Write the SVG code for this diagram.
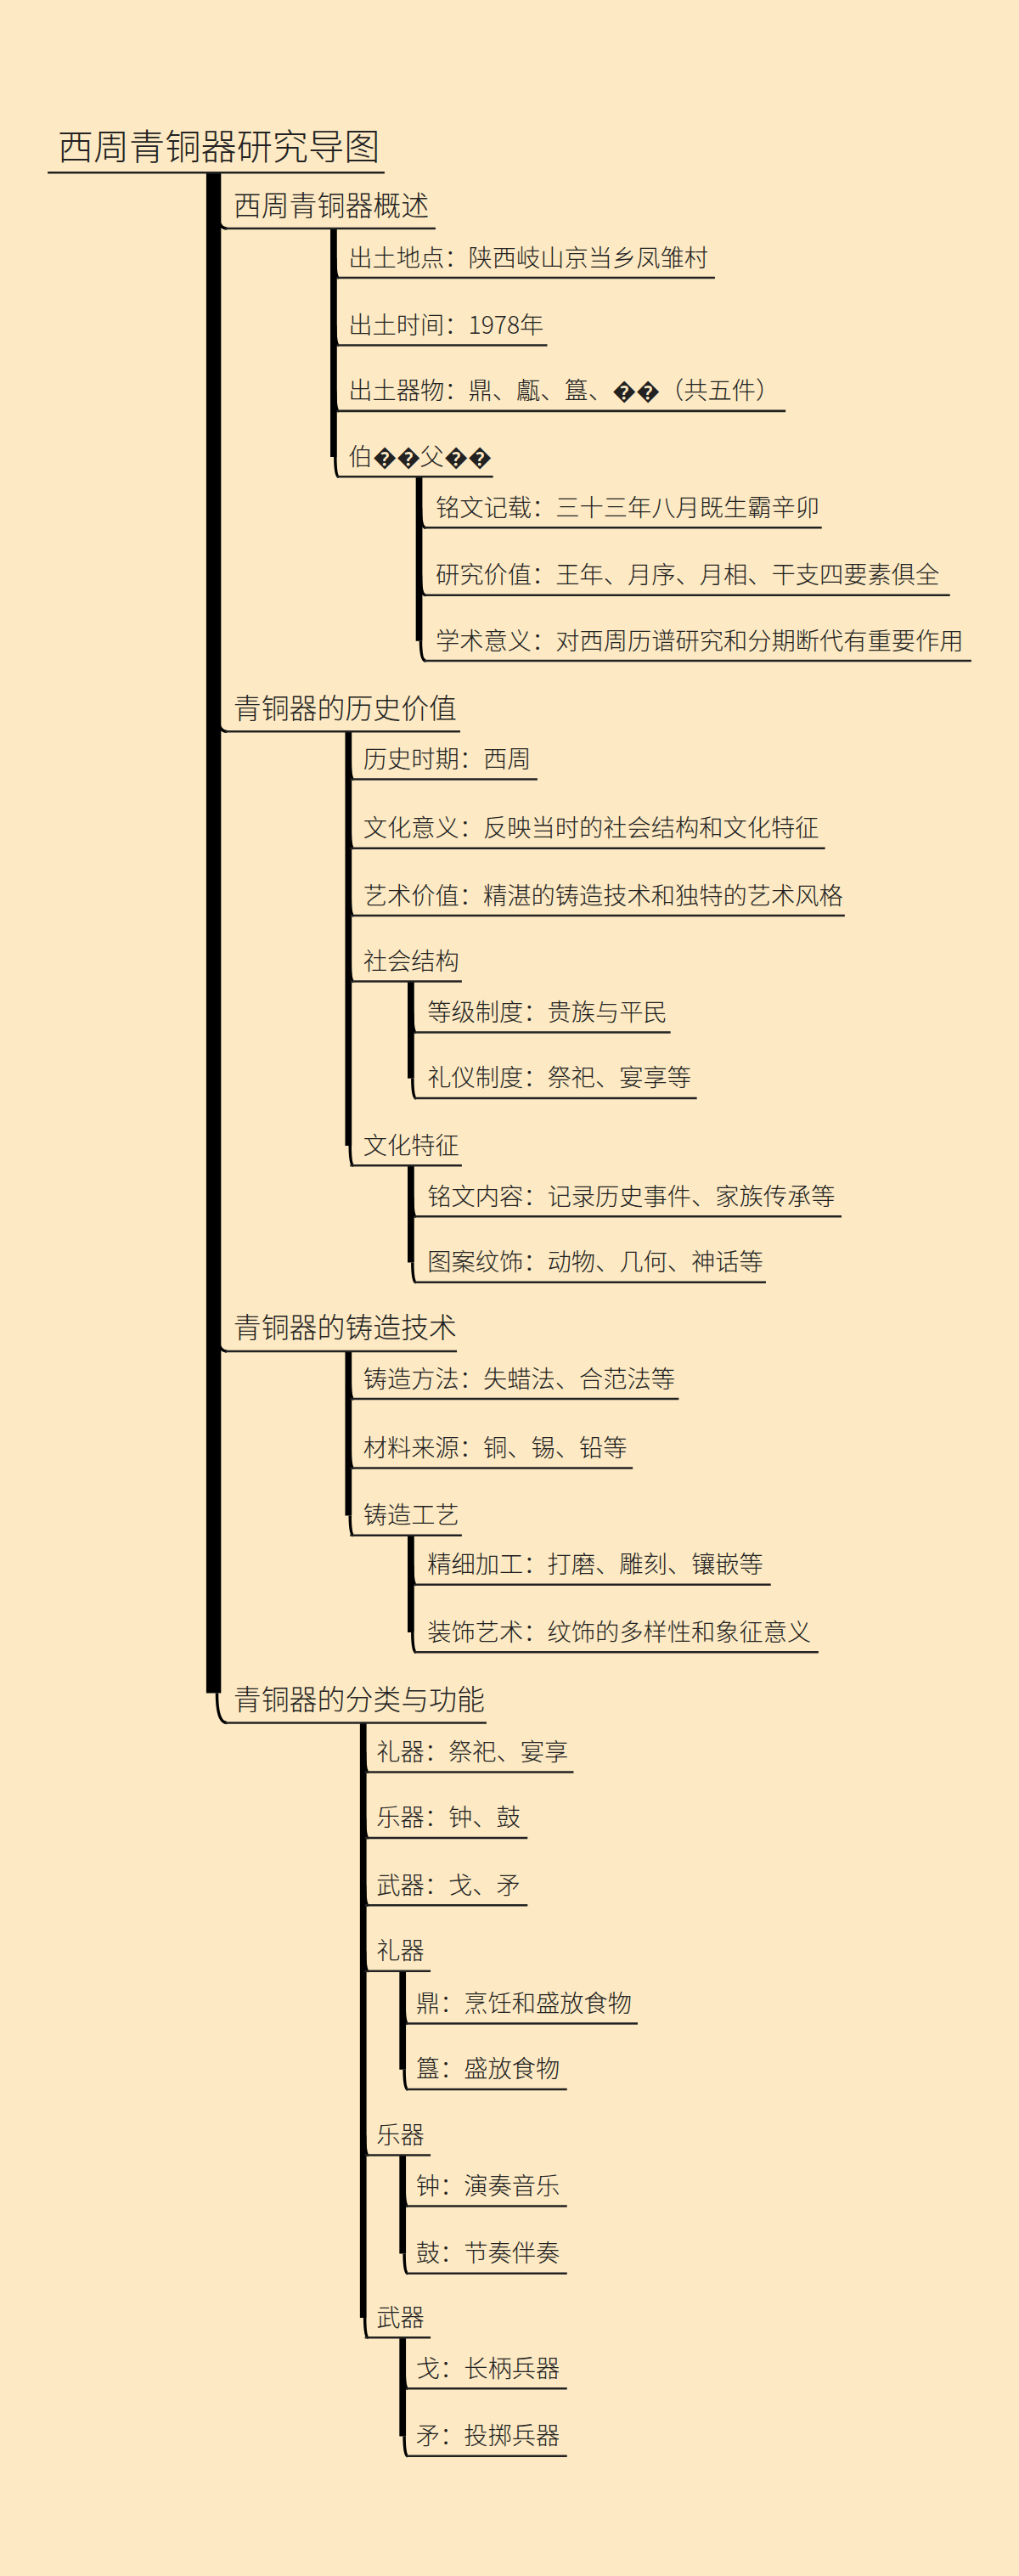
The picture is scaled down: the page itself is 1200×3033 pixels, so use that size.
<svg xmlns="http://www.w3.org/2000/svg" width="1200" height="3033" viewBox="0 0 1200 3033">
<style>
text{font-family:"Noto Sans CJK SC","Liberation Sans",sans-serif;fill:#222;font-weight:300}
.t0{font-size:21.8px}.t1{font-size:17px}.t2{font-size:14.6px}
.u{stroke:#222;stroke-width:1.3;fill:none}
.c{stroke:#000;fill:none;stroke-linecap:butt}
.k0{stroke-width:9}.k1{stroke-width:4}.k2{stroke-width:4}
.cv{stroke:#000;fill:none;stroke-width:1.8}
</style>
<rect width="1200" height="3033" fill="#fdeac4"/>
<g transform="scale(1.9355)">
<g id="connectors">
<line class="c k0" x1="130" y1="105" x2="130" y2="1030"/>
<path class="cv" d="M132 125 Q132 139 138 139 M132 431 Q132 445 138 445 M132 808 Q132 822 138 822 M132 1030 Q132 1048 138 1048"/>
<line class="c k1" x1="203" y1="139" x2="203" y2="278"/>
<path class="cv" d="M204 157 Q204 169 206 169 M204 198 Q204 210 206 210 M204 238 Q204 250 206 250 M204 278 Q204 290 206 290"/>
<line class="c k2" x1="255" y1="290" x2="255" y2="390"/>
<path class="cv" d="M256 309 Q256 321 259 321 M256 350 Q256 362 259 362 M256 390 Q256 402 259 402"/>
<line class="c k1" x1="212" y1="445" x2="212" y2="697"/>
<path class="cv" d="M213 462 Q213 474 215 474 M213 504 Q213 516 215 516 M213 545 Q213 557 215 557 M213 585 Q213 597 215 597 M213 697 Q213 709 215 709"/>
<line class="c k2" x1="250" y1="597" x2="250" y2="656"/>
<path class="cv" d="M251 616 Q251 628 253 628 M251 656 Q251 668 253 668"/>
<line class="c k2" x1="250" y1="709" x2="250" y2="768"/>
<path class="cv" d="M251 728 Q251 740 253 740 M251 768 Q251 780 253 780"/>
<line class="c k1" x1="212" y1="822" x2="212" y2="922"/>
<path class="cv" d="M213 839 Q213 851 215 851 M213 881 Q213 893 215 893 M213 922 Q213 934 215 934"/>
<line class="c k2" x1="250" y1="934" x2="250" y2="993"/>
<path class="cv" d="M251 952 Q251 964 253 964 M251 993 Q251 1005 253 1005"/>
<line class="c k1" x1="221" y1="1048" x2="221" y2="1410"/>
<path class="cv" d="M222 1066 Q222 1078 224 1078 M222 1106 Q222 1118 224 1118 M222 1147 Q222 1159 224 1159 M222 1187 Q222 1199 224 1199 M222 1299 Q222 1311 224 1311 M222 1410 Q222 1422 224 1422"/>
<line class="c k2" x1="245" y1="1199" x2="245" y2="1259"/>
<path class="cv" d="M246 1219 Q246 1231 248 1231 M246 1259 Q246 1271 248 1271"/>
<line class="c k2" x1="245" y1="1311" x2="245" y2="1371"/>
<path class="cv" d="M246 1330 Q246 1342 248 1342 M246 1371 Q246 1383 248 1383"/>
<line class="c k2" x1="245" y1="1422" x2="245" y2="1482"/>
<path class="cv" d="M246 1441 Q246 1453 248 1453 M246 1482 Q246 1494 248 1494"/>
</g>
<g id="root"><text class="t0" x="35" y="97">西周青铜器研究导图</text><line class="u" x1="29" y1="105" x2="234" y2="105"/></g>
<g id="n1"><text class="t1" x="142" y="131">西周青铜器概述</text><line class="u" x1="137" y1="139" x2="265" y2="139"/></g>
<g id="n1a"><text class="t2" x="212" y="162">出土地点：陕西岐山京当乡凤雏村</text><line class="u" x1="205" y1="169" x2="435" y2="169"/></g>
<g id="n1b"><text class="t2" x="212" y="203">出土时间：1978年</text><line class="u" x1="205" y1="210" x2="333" y2="210"/></g>
<g id="n1c"><text class="t2" x="212" y="243">出土器物：鼎、甗、簋、��（共五件）</text><line class="u" x1="205" y1="250" x2="478" y2="250"/></g>
<g id="n1d"><text class="t2" x="212" y="283">伯��父��</text><line class="u" x1="205" y1="290" x2="300" y2="290"/></g>
<g id="n1d1"><text class="t2" x="265" y="314">铭文记载：三十三年八月既生霸辛卯</text><line class="u" x1="258" y1="321" x2="500" y2="321"/></g>
<g id="n1d2"><text class="t2" x="265" y="355">研究价值：王年、月序、月相、干支四要素俱全</text><line class="u" x1="258" y1="362" x2="578" y2="362"/></g>
<g id="n1d3"><text class="t2" x="265" y="395">学术意义：对西周历谱研究和分期断代有重要作用</text><line class="u" x1="258" y1="402" x2="591" y2="402"/></g>
<g id="n2"><text class="t1" x="142" y="437">青铜器的历史价值</text><line class="u" x1="137" y1="445" x2="280" y2="445"/></g>
<g id="n2a"><text class="t2" x="221" y="467">历史时期：西周</text><line class="u" x1="213" y1="474" x2="327" y2="474"/></g>
<g id="n2b"><text class="t2" x="221" y="509">文化意义：反映当时的社会结构和文化特征</text><line class="u" x1="213" y1="516" x2="502" y2="516"/></g>
<g id="n2c"><text class="t2" x="221" y="550">艺术价值：精湛的铸造技术和独特的艺术风格</text><line class="u" x1="213" y1="557" x2="514" y2="557"/></g>
<g id="n2d"><text class="t2" x="221" y="590">社会结构</text><line class="u" x1="213" y1="597" x2="281" y2="597"/></g>
<g id="n2d1"><text class="t2" x="260" y="621">等级制度：贵族与平民</text><line class="u" x1="252" y1="628" x2="408" y2="628"/></g>
<g id="n2d2"><text class="t2" x="260" y="661">礼仪制度：祭祀、宴享等</text><line class="u" x1="252" y1="668" x2="424" y2="668"/></g>
<g id="n2e"><text class="t2" x="221" y="702">文化特征</text><line class="u" x1="213" y1="709" x2="281" y2="709"/></g>
<g id="n2e1"><text class="t2" x="260" y="733">铭文内容：记录历史事件、家族传承等</text><line class="u" x1="252" y1="740" x2="512" y2="740"/></g>
<g id="n2e2"><text class="t2" x="260" y="773">图案纹饰：动物、几何、神话等</text><line class="u" x1="252" y1="780" x2="466" y2="780"/></g>
<g id="n3"><text class="t1" x="142" y="814">青铜器的铸造技术</text><line class="u" x1="137" y1="822" x2="278" y2="822"/></g>
<g id="n3a"><text class="t2" x="221" y="844">铸造方法：失蜡法、合范法等</text><line class="u" x1="213" y1="851" x2="413" y2="851"/></g>
<g id="n3b"><text class="t2" x="221" y="886">材料来源：铜、锡、铅等</text><line class="u" x1="213" y1="893" x2="385" y2="893"/></g>
<g id="n3c"><text class="t2" x="221" y="927">铸造工艺</text><line class="u" x1="213" y1="934" x2="281" y2="934"/></g>
<g id="n3c1"><text class="t2" x="260" y="957">精细加工：打磨、雕刻、镶嵌等</text><line class="u" x1="252" y1="964" x2="469" y2="964"/></g>
<g id="n3c2"><text class="t2" x="260" y="998">装饰艺术：纹饰的多样性和象征意义</text><line class="u" x1="252" y1="1005" x2="498" y2="1005"/></g>
<g id="n4"><text class="t1" x="142" y="1040">青铜器的分类与功能</text><line class="u" x1="137" y1="1048" x2="296" y2="1048"/></g>
<g id="n4a"><text class="t2" x="229" y="1071">礼器：祭祀、宴享</text><line class="u" x1="222" y1="1078" x2="349" y2="1078"/></g>
<g id="n4b"><text class="t2" x="229" y="1111">乐器：钟、鼓</text><line class="u" x1="222" y1="1118" x2="321" y2="1118"/></g>
<g id="n4c"><text class="t2" x="229" y="1152">武器：戈、矛</text><line class="u" x1="222" y1="1159" x2="321" y2="1159"/></g>
<g id="n4d"><text class="t2" x="229" y="1192">礼器</text><line class="u" x1="222" y1="1199" x2="262" y2="1199"/></g>
<g id="n4d1"><text class="t2" x="253" y="1224">鼎：烹饪和盛放食物</text><line class="u" x1="247" y1="1231" x2="388" y2="1231"/></g>
<g id="n4d2"><text class="t2" x="253" y="1264">簋：盛放食物</text><line class="u" x1="247" y1="1271" x2="345" y2="1271"/></g>
<g id="n4e"><text class="t2" x="229" y="1304">乐器</text><line class="u" x1="222" y1="1311" x2="262" y2="1311"/></g>
<g id="n4e1"><text class="t2" x="253" y="1335">钟：演奏音乐</text><line class="u" x1="247" y1="1342" x2="345" y2="1342"/></g>
<g id="n4e2"><text class="t2" x="253" y="1376">鼓：节奏伴奏</text><line class="u" x1="247" y1="1383" x2="345" y2="1383"/></g>
<g id="n4f"><text class="t2" x="229" y="1415">武器</text><line class="u" x1="222" y1="1422" x2="262" y2="1422"/></g>
<g id="n4f1"><text class="t2" x="253" y="1446">戈：长柄兵器</text><line class="u" x1="247" y1="1453" x2="345" y2="1453"/></g>
<g id="n4f2"><text class="t2" x="253" y="1487">矛：投掷兵器</text><line class="u" x1="247" y1="1494" x2="345" y2="1494"/></g>
</g>
</svg>
